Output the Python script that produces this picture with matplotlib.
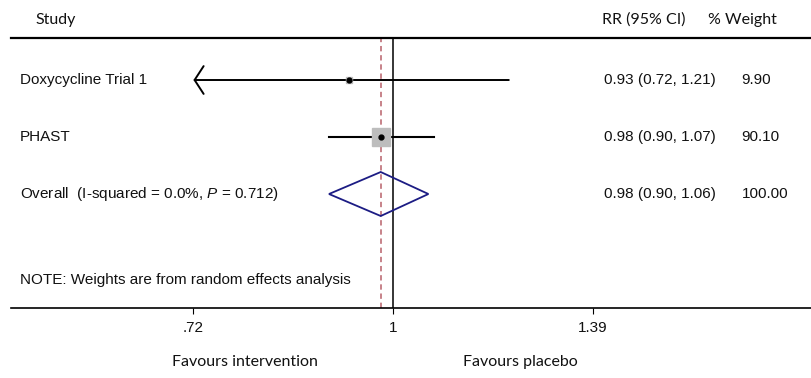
import matplotlib
matplotlib.use('Agg')
import matplotlib.pyplot as plt
import numpy as np

# study level results (risk ratio, 95% CI, % weight)
studies = ['Doxycycline Trial 1', 'PHAST']
rr = [0.93, 0.98]
ci_low = [0.72, 0.90]
ci_high = [1.21, 1.07]
weights = [9.90, 90.10]

# pooled estimate
overall_rr = 0.98
overall_low = 0.90
overall_high = 1.06
overall_weight = 100.00
i_squared = 0.0
p_value = 0.712

ticks = [0.72, 1, 1.39]
tick_labels = ['.72', '1', '1.39']

plt.rcParams['mathtext.fontset'] = 'custom'
plt.rcParams['mathtext.rm'] = 'Liberation Sans'
plt.rcParams['mathtext.it'] = 'Liberation Sans:italic'

W, H = 811, 378
fig = plt.figure(figsize=(W / 100, H / 100), dpi=100)
ax = fig.add_axes([11 / W, 70 / H, 800 / W, 270 / H])
ax.set_xscale('log')
ax.set_xlim(np.exp(-382 / 607.5), np.exp(418 / 607.5))
ax.set_ylim(4.0, -0.737)

for side in ('left', 'right'):
    ax.spines[side].set_visible(False)
ax.spines['top'].set_linewidth(1.6)
ax.spines['bottom'].set_linewidth(1.2)
ax.set_yticks([])
ax.set_xticks(ticks)
ax.set_xticklabels(tick_labels)
ax.minorticks_off()
ax.tick_params(axis='x', direction='out', length=4, width=0.8, pad=5,
               labelsize=11, labelcolor='#111111')
for lab in ax.get_xticklabels():
    lab.set_family('Liberation Sans')

# reference lines
ax.axvline(1, color='black', lw=1.1, zorder=1)
ax.axvline(overall_rr, color='#b8606a', lw=1.1, ls=(0, (3.5, 2.5)), zorder=1)

body = dict(family='Liberation Sans', fontsize=11, va='center', color='#111111')
txt = ax.get_yaxis_transform()
max_w = max(weights)

for i, name in enumerate(studies):
    lo = max(ci_low[i], ticks[0])
    if ci_low[i] <= ticks[0]:
        ax.annotate('', xy=(lo, i), xytext=(ci_high[i], i),
                    arrowprops=dict(arrowstyle='->,head_length=6.5,head_width=10',
                                    mutation_scale=1, lw=1.4, color='black',
                                    shrinkA=0, shrinkB=0))
    else:
        ax.plot([lo, ci_high[i]], [i, i], color='black', lw=1.5, zorder=2)
    ax.plot(rr[i], i, marker='s', ms=13 * np.sqrt(weights[i] / max_w),
            color='#bdbdbd', mec='#bdbdbd', zorder=3, ls='none')
    ax.plot(rr[i], i, marker='o', ms=3.5, color='black', zorder=4, ls='none')
    ax.text(0.011, i, name, transform=txt, **body)
    ax.text(0.741, i, f'{rr[i]:.2f} ({ci_low[i]:.2f}, {ci_high[i]:.2f})',
            transform=txt, **body)
    ax.text(0.9125, i, f'{weights[i]:.2f}', transform=txt, **body)

# overall diamond
k = len(studies)
half = 0.386
ax.fill([overall_low, overall_rr, overall_high, overall_rr, overall_low],
        [k, k - half, k, k + half, k], facecolor='none',
        edgecolor='#1c1c84', lw=1.3, zorder=3)
ax.text(0.011, k, f'Overall  (I-squared = {i_squared:.1f}%, $\\it{{P}}$ = {p_value})',
        transform=txt, **body)
ax.text(0.741, k, f'{overall_rr:.2f} ({overall_low:.2f}, {overall_high:.2f})',
        transform=txt, **body)
ax.text(0.914, k, f'{overall_weight:.2f}', transform=txt, **body)

ax.text(0.011, 3.51, 'NOTE: Weights are from random effects analysis',
        transform=txt, **body)

# headers and footers
head = dict(family='Lato', fontsize=11.5, va='center', color='#111111')
fig.text(35 / W, 1 - 20 / H, 'Study', **head)
fig.text(602 / W, 1 - 20 / H, 'RR (95% CI)', **head)
fig.text(708 / W, 1 - 20 / H, '% Weight', **head)
fig.text(172 / W, 1 - 362 / H, 'Favours intervention', **head)
fig.text(463 / W, 1 - 362 / H, 'Favours placebo', **head)

fig.savefig('out.png', dpi=100, facecolor='white')
